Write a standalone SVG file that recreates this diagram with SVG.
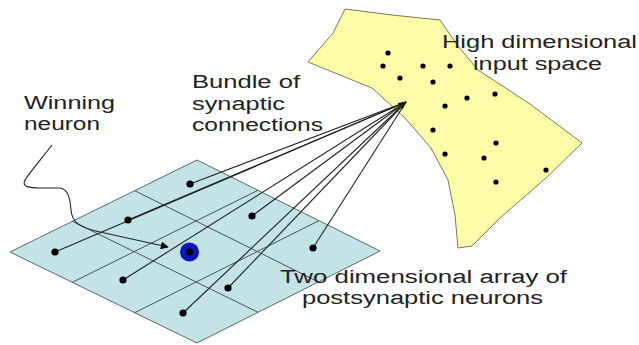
<svg xmlns="http://www.w3.org/2000/svg" width="639" height="345" viewBox="0 0 639 345">
  <defs>
    <style>
      .lbl { font-family: "Liberation Sans", Arial, sans-serif; font-size: 18px; fill: #222; }
      .grid { fill: #C3E3E7; stroke: #5a6a6c; stroke-width: 1; }
      .gline { stroke: #4a5456; stroke-width: 1; fill: none; }
      .dot { fill: #000; }
      .idot { fill: #000; }
      .conn { stroke: #222; stroke-width: 1.1; fill: none; }
    </style>
    <marker id="arr" viewBox="0 0 10 10" refX="9" refY="5" markerWidth="8" markerHeight="8" markerUnits="userSpaceOnUse" orient="auto">
      <path d="M0,0 L10,5 L0,10 z" fill="#000"/>
    </marker>
  </defs>
  <rect width="639" height="345" fill="#fff"/>

  <g id="input-space">
    <path d="M345,9 L392,15 L440,20 L458,46 L478,70 L530,104 L582,143 L546,178 L500,218 L472,246 L458,248 L455,215 L448,180 L431,148 L405,118 L372,88 L335,73 L308,62 L322,46 L333,33 Z" fill="#FDFCA9" stroke="#7a7a60" stroke-width="1"/>
    <circle class="idot" cx="388" cy="53" r="2.6"/>
    <circle class="idot" cx="383" cy="66" r="2.6"/>
    <circle class="idot" cx="423" cy="66" r="2.6"/>
    <circle class="idot" cx="450" cy="66" r="2.6"/>
    <circle class="idot" cx="400" cy="78" r="2.6"/>
    <circle class="idot" cx="433" cy="82" r="2.6"/>
    <circle class="idot" cx="467" cy="98" r="2.6"/>
    <circle class="idot" cx="495" cy="94" r="2.6"/>
    <circle class="idot" cx="445" cy="106" r="2.6"/>
    <circle class="idot" cx="433" cy="130" r="2.6"/>
    <circle class="idot" cx="496" cy="143" r="2.6"/>
    <circle class="idot" cx="445" cy="154" r="2.6"/>
    <circle class="idot" cx="484" cy="158" r="2.6"/>
    <circle class="idot" cx="546" cy="170" r="2.6"/>
    <circle class="idot" cx="496" cy="182" r="2.6"/>
  </g>

  <g id="neuron-array">
    <path class="grid" d="M197,160 L380,251 L197,343 L10,252 Z"/>
    <line class="gline" x1="134.7" y1="190.7" x2="318" y2="281.7"/>
    <line class="gline" x1="72.3" y1="221.3" x2="258" y2="312.3"/>
    <line class="gline" x1="258" y1="190.3" x2="72.3" y2="282.3"/>
    <line class="gline" x1="319" y1="220.7" x2="134.7" y2="312.7"/>
  </g>

  <g id="connectors">
    <line class="conn" x1="190" y1="184" x2="406" y2="102"/>
    <line class="conn" x1="128" y1="220" x2="406" y2="102"/>
    <line class="conn" x1="55" y1="252" x2="406" y2="102"/>
    <line class="conn" x1="252" y1="216" x2="406" y2="102" marker-end="url(#arr)"/>
    <line class="conn" x1="313" y1="248" x2="406" y2="102"/>
    <line class="conn" x1="123" y1="280" x2="406" y2="102"/>
    <line class="conn" x1="228" y1="288" x2="406" y2="102"/>
    <line class="conn" x1="183" y1="313" x2="406" y2="102"/>
    <path class="conn" d="M52,145 C42,158 30,172 25,180 C21,187 30,188 40,188 L60,188 C68,189 70,198 71,210 C72,222 78,227 100,232 L168,247" stroke-width="1.3" marker-end="url(#arr)"/>
  </g>

  <g id="neurons">
    <circle class="dot" cx="190" cy="184" r="3.6"/>
    <circle class="dot" cx="128" cy="220" r="3.6"/>
    <circle class="dot" cx="252" cy="216" r="3.6"/>
    <circle class="dot" cx="55" cy="252" r="3.6"/>
    <circle class="dot" cx="313" cy="248" r="3.6"/>
    <circle class="dot" cx="123" cy="280" r="3.6"/>
    <circle class="dot" cx="228" cy="288" r="3.6"/>
    <circle class="dot" cx="183" cy="313" r="3.6"/>
  </g>

  <g id="winning-neuron">
    <circle cx="189.5" cy="252" r="9.5" fill="#1414B8"/>
    <circle cx="189.5" cy="252" r="3.5" fill="#000"/>
  </g>

  <g id="label-winning">
    <text class="lbl" x="24" y="109" textLength="91" lengthAdjust="spacingAndGlyphs">Winning</text>
    <text class="lbl" x="24" y="130" textLength="76" lengthAdjust="spacingAndGlyphs">neuron</text>
  </g>
  <g id="label-bundle">
    <text class="lbl" x="192" y="88" textLength="108" lengthAdjust="spacingAndGlyphs">Bundle of</text>
    <text class="lbl" x="192" y="109.5" textLength="93" lengthAdjust="spacingAndGlyphs">synaptic</text>
    <text class="lbl" x="192" y="130.5" textLength="131" lengthAdjust="spacingAndGlyphs">connections</text>
  </g>
  <g id="label-input">
    <text class="lbl" x="442" y="48" textLength="195" lengthAdjust="spacingAndGlyphs">High dimensional</text>
    <text class="lbl" x="473" y="70" textLength="129" lengthAdjust="spacingAndGlyphs">input space</text>
  </g>
  <g id="label-array">
    <text class="lbl" x="280" y="283" textLength="287" lengthAdjust="spacingAndGlyphs">Two dimensional array of</text>
    <text class="lbl" x="302" y="304" textLength="241" lengthAdjust="spacingAndGlyphs">postsynaptic neurons</text>
  </g>
</svg>
